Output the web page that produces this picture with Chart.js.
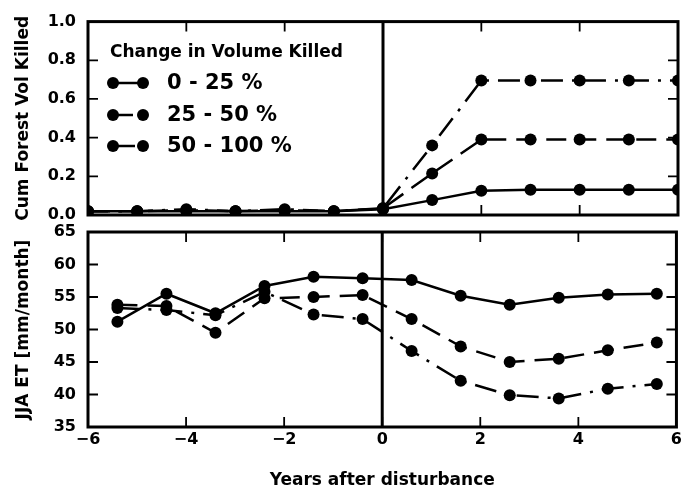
<!DOCTYPE html>
<html>
<head>
<meta charset="utf-8">
<script src="https://cdn.jsdelivr.net/npm/chart.js@4.4.1/dist/chart.umd.min.js"></script>
<style>
    html, body { margin: 0; padding: 0; background: #fff; }
    #wrap { position: relative; width: 685px; height: 487px; }
    canvas { position: absolute; left: 0; top: 0; }
</style>
</head>
<body>
<div id="wrap">
    <canvas id="killedChart" width="685" height="487"></canvas>
    <canvas id="etChart" width="685" height="487"></canvas>
</div>
<script>
// classes of change in volume killed
const seriesLabels = ['0 - 25 %', '25 - 50 %', '50 - 100 %'];

// top panel: cumulative forest volume killed
const killedYears = [-6, -5, -4, -3, -2, -1, 0, 1, 2, 3, 4, 5, 6];
const killedLow = [0.02, 0.02, 0.02, 0.02, 0.02, 0.02, 0.03, 0.077, 0.125, 0.13, 0.13, 0.13, 0.13];
const killedMid = [0.02, 0.02, 0.025, 0.02, 0.025, 0.02, 0.035, 0.215, 0.39, 0.39, 0.39, 0.39, 0.39];
const killedHigh = [0.02, 0.02, 0.03, 0.02, 0.03, 0.02, 0.035, 0.36, 0.695, 0.695, 0.695, 0.695, 0.695];

// bottom panel: JJA evapotranspiration
const etYears = [-5.4, -4.4, -3.4, -2.4, -1.4, -0.4, 0.6, 1.6, 2.6, 3.6, 4.6, 5.6];
const etLow = [51.2, 55.5, 52.5, 56.7, 58.1, 57.9, 57.6, 55.2, 53.8, 54.9, 55.4, 55.5];
const etMid = [53.8, 53.6, 49.5, 54.8, 55.0, 55.3, 51.6, 47.4, 45.0, 45.5, 46.8, 48.0];
const etHigh = [53.3, 53.0, 52.2, 55.8, 52.3, 51.6, 46.7, 42.1, 39.9, 39.4, 40.9, 41.6];

// tick values
const xTicks = [-6, -4, -2, 0, 2, 4, 6];
const killedTicks = [0, 0.2, 0.4, 0.6, 0.8, 1.0];
const etTicks = [35, 40, 45, 50, 55, 60, 65];

const FONT = 'DejaVu Sans';
const dashes = [[], [20, 10], [22, 9, 3, 9]];

function makeDatasets(years, seriesList) {
    return seriesList.map((vals, i) => ({
        label: seriesLabels[i],
        data: years.map((x, j) => ({ x: x, y: vals[j] })),
        borderColor: '#000',
        backgroundColor: '#000',
        borderWidth: 2.5,
        borderDash: dashes[i],
        pointRadius: 6,
        pointBorderWidth: 0,
        pointBackgroundColor: '#000',
        tension: 0,
        clip: 0
    }));
}

// frame, inward ticks and the line at year 0
const framePlugin = {
    id: 'frame',
    afterDraw(chart, args, opts) {
        const { ctx, chartArea: a } = chart;
        const xs = chart.scales.x, ys = chart.scales.y;
        ctx.save();
        ctx.strokeStyle = '#000';
        ctx.lineWidth = 1.8;
        ctx.beginPath();
        xTicks.slice(1, -1).forEach(v => {
            const px = xs.getPixelForValue(v);
            ctx.moveTo(px, a.top); ctx.lineTo(px, a.top + 10);
            ctx.moveTo(px, a.bottom); ctx.lineTo(px, a.bottom - 10);
        });
        opts.yTicks.slice(1, -1).forEach(v => {
            const py = ys.getPixelForValue(v);
            ctx.moveTo(a.left, py); ctx.lineTo(a.left + 10, py);
            ctx.moveTo(a.right, py); ctx.lineTo(a.right - 10, py);
        });
        ctx.stroke();
        ctx.lineWidth = 3;
        const x0 = xs.getPixelForValue(0);
        ctx.beginPath();
        ctx.moveTo(x0, a.top); ctx.lineTo(x0, a.bottom);
        ctx.stroke();
        ctx.strokeRect(a.left, a.top, a.right - a.left, a.bottom - a.top);
        ctx.restore();
    }
};

// matplotlib-like legend: line with two markers
const legendPlugin = {
    id: 'lineLegend',
    afterDraw(chart, args, opts) {
        if (!opts.show) return;
        const ctx = chart.ctx;
        ctx.save();
        ctx.fillStyle = '#000';
        ctx.textBaseline = 'middle';
        ctx.textAlign = 'left';
        ctx.font = 'bold 17px "' + FONT + '"';
        ctx.fillText('Change in Volume Killed', 110, 53);
        const rows = [83, 115, 146];
        chart.data.datasets.forEach((ds, i) => {
            const y = rows[i];
            ctx.strokeStyle = '#000';
            ctx.lineWidth = ds.borderWidth;
            ctx.setLineDash(ds.borderDash);
            ctx.beginPath();
            ctx.moveTo(113, y); ctx.lineTo(143, y);
            ctx.stroke();
            ctx.setLineDash([]);
            [113, 143].forEach(px => {
                ctx.beginPath();
                ctx.arc(px, y, ds.pointRadius, 0, Math.PI * 2);
                ctx.fill();
            });
            ctx.font = 'bold 21px "' + FONT + '"';
            ctx.fillText(ds.label, 167, y + 1);
        });
        ctx.restore();
    }
};

function fmtX(v) {
    return v < 0 ? '\u2212' + Math.abs(v) : String(v);
}

function buildChart(id, years, seriesList, yTicks, yTitle, showX, padding, decimals) {
    const ctx = document.getElementById(id).getContext('2d');
    return new Chart(ctx, {
        type: 'line',
        data: { datasets: makeDatasets(years, seriesList) },
        plugins: [framePlugin, legendPlugin],
        options: {
            responsive: false,
            animation: false,
            devicePixelRatio: 1,
            layout: { padding: padding },
            plugins: {
                legend: { display: false },
                tooltip: { enabled: false },
                frame: { yTicks: yTicks },
                lineLegend: { show: !showX }
            },
            scales: {
                x: {
                    type: 'linear',
                    display: showX,
                    min: xTicks[0],
                    max: xTicks[xTicks.length - 1],
                    afterBuildTicks: s => { s.ticks = xTicks.map(v => ({ value: v })); },
                    afterFit: s => { s.height = showX ? 60 : 0; },
                    grid: { display: false, drawTicks: false, tickLength: 0 },
                    border: { display: false },
                    ticks: {
                        color: '#000',
                        padding: 3,
                        maxRotation: 0,
                        font: { family: FONT, size: 16, weight: 'bold' },
                        callback: fmtX
                    },
                    title: {
                        display: true,
                        text: 'Years after disturbance',
                        color: '#000',
                        padding: { top: 0, bottom: -2 },
                        font: { family: FONT, size: 17, weight: 'bold', lineHeight: 1 }
                    }
                },
                y: {
                    type: 'linear',
                    min: yTicks[0],
                    max: yTicks[yTicks.length - 1],
                    afterBuildTicks: s => { s.ticks = yTicks.map(v => ({ value: v })); },
                    afterFit: s => { s.width = 88; },
                    grid: { display: false, drawTicks: false, tickLength: 0 },
                    border: { display: false },
                    ticks: {
                        color: '#000',
                        padding: 12,
                        font: { family: FONT, size: 16, weight: 'bold' },
                        callback: v => v.toFixed(decimals)
                    },
                    title: {
                        display: true,
                        text: yTitle,
                        color: '#000',
                        padding: { top: 13, bottom: 0 },
                        font: { family: FONT, size: 17, weight: 'bold' }
                    }
                }
            }
        }
    });
}

buildChart('killedChart', killedYears, [killedLow, killedMid, killedHigh], killedTicks,
    'Cum Forest Vol Killed', false, { top: 21, right: 7, bottom: 272, left: 0 }, 1);
buildChart('etChart', etYears, [etLow, etMid, etHigh], etTicks,
    'JJA ET [mm/month]', true, { top: 232, right: 7, bottom: 0, left: 0 }, 0);
</script>
</body>
</html>
